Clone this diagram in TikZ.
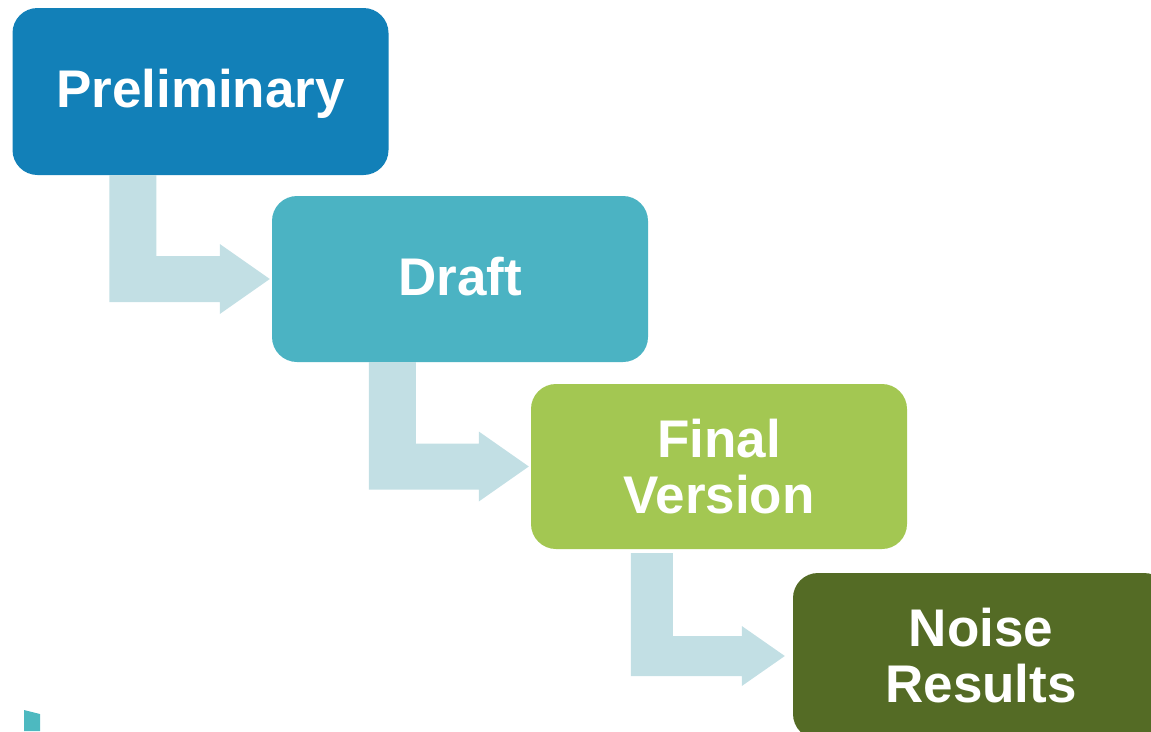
\documentclass[tikz,border=0pt]{standalone}
\usepackage{fontspec}
\setmainfont{Liberation Sans}
\usetikzlibrary{calc}
\definecolor{cPre}{RGB}{18,128,184}
\definecolor{cDraft}{RGB}{75,179,195}
\definecolor{cFinal}{RGB}{163,199,82}
\definecolor{cNoise}{RGB}{84,107,37}
\definecolor{cConn}{RGB}{194,223,228}
\definecolor{cTeal}{RGB}{77,185,192}
\tikzset{
  stepbox/.style={rounded corners=25pt, minimum width=376pt, minimum height=166pt,
    inner sep=0pt, text=white, align=center,
    font=\bfseries\fontsize{53}{56}\selectfont},
  oneline/.style={text height=38pt, text depth=6pt},
  conn/.style={fill=cConn, draw=none}
}
% #1 from node, #2 to node, #3 left x offset, #4 right x offset,
% #5 shaft half width, #6 head half width, #7 head length, #8 tip gap, #9 top gap
\newcommand\bentarrow[9]{%
  \coordinate (#1L) at ([xshift=#3pt,yshift=-#9pt]#1.south west);
  \coordinate (#1R) at ([xshift=#4pt,yshift=-#9pt]#1.south west);
  \coordinate (#2T) at ([yshift=#5pt]#2.west);
  \coordinate (#2B) at ([yshift=-#5pt]#2.west);
  \coordinate (#2HT) at ([xshift=-#7pt-#8pt,yshift=#6pt]#2.west);
  \coordinate (#2HB) at ([xshift=-#7pt-#8pt,yshift=-#6pt]#2.west);
  \coordinate (#2tip) at ([xshift=-#8pt]#2.west);
  \fill[conn] (#1L) -- (#1R) -- (#1R |- #2T) -- (#2HT |- #2T) -- (#2HT) -- (#2tip)
    -- (#2HB) -- (#2HB |- #2B) -- (#1L |- #2B) -- cycle;
}
\begin{document}
\begin{tikzpicture}[x=1pt,y=-1pt]
  \useasboundingbox (0,0) rectangle (1151,731);
  \clip (0,0) rectangle (1151,731);
  \node[stepbox, oneline, fill=cPre, minimum height=167pt] (pre) at (200.5,91.5) {Preliminary};
  \node[stepbox, oneline, fill=cDraft] (draft) at (460,279) {Draft};
  \node[stepbox, fill=cFinal, minimum height=165pt] (final) at (719,466.5) {Final\\Version};
  \node[stepbox, fill=cNoise] (noise) at (981,656) {Noise\\Results};
  \bentarrow{pre}{draft}{97}{144}{23}{35}{50}{2}{0}
  \bentarrow{draft}{final}{97}{144}{23}{35}{50}{2}{0}
  \bentarrow{final}{noise}{100}{142}{20}{30}{43}{8}{4}
  \fill[cTeal] (24,710) -- (40,714) -- (40,731) -- (24,731) -- cycle;
\end{tikzpicture}
\end{document}
